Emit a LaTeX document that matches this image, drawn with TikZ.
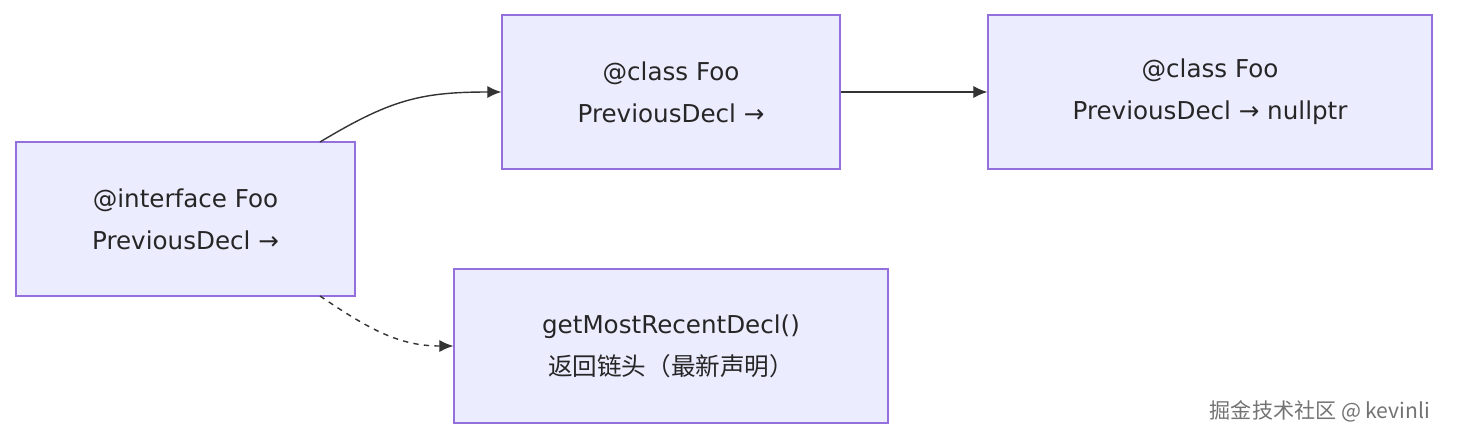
\documentclass[tikz,border=0pt]{standalone}
\usepackage{fontspec}
\setmainfont{DejaVu Sans}
\newfontfamily\cjk{Noto Sans CJK SC}
\usetikzlibrary{arrows.meta}
\definecolor{boxfill}{HTML}{ECECFF}
\definecolor{boxline}{HTML}{9370DB}
\definecolor{edgecol}{HTML}{333333}
\begin{document}
\begin{tikzpicture}[x=0.02cm,y=-0.02cm,
  decl/.style={draw=boxline,fill=boxfill,line width=0.8pt,minimum height=3.08cm,align=center,
    font=\fontsize{14}{24}\selectfont,text=black!85},
  link/.style={draw=edgecol,line width=0.8pt,-{Latex[length=8pt,width=7pt]}}]
\useasboundingbox (0,0) rectangle (1464,444);
\node[decl,minimum width=6.78cm] (iface) at (185.5,219) {@interface Foo\\PreviousDecl →};
\node[decl,minimum width=6.76cm] (cls) at (671,92) {@class Foo\\PreviousDecl →};
\node[decl,minimum width=8.88cm] (first) at (1210,92) {@class Foo\\PreviousDecl → nullptr};
\node[decl,minimum width=8.68cm] (recent) at (671,346) {getMostRecentDecl()\\{\cjk 返回链头（最新声明）}};
\coordinate (ifaceTop) at (320,142);
\coordinate (ifaceBot) at (320,296);
\draw[link] (ifaceTop) .. controls (390,100) and (420,92) .. (cls.west);
\draw[link] (cls.east) -- (first.west);
\draw[link,dashed] (ifaceBot) .. controls (370,330) and (400,346) .. (recent.west);
\node[font=\cjk\fontsize{12}{14}\selectfont,text=black!55] (mark) at (1320,411) {掘金技术社区 @ kevinli};
\end{tikzpicture}
\end{document}
